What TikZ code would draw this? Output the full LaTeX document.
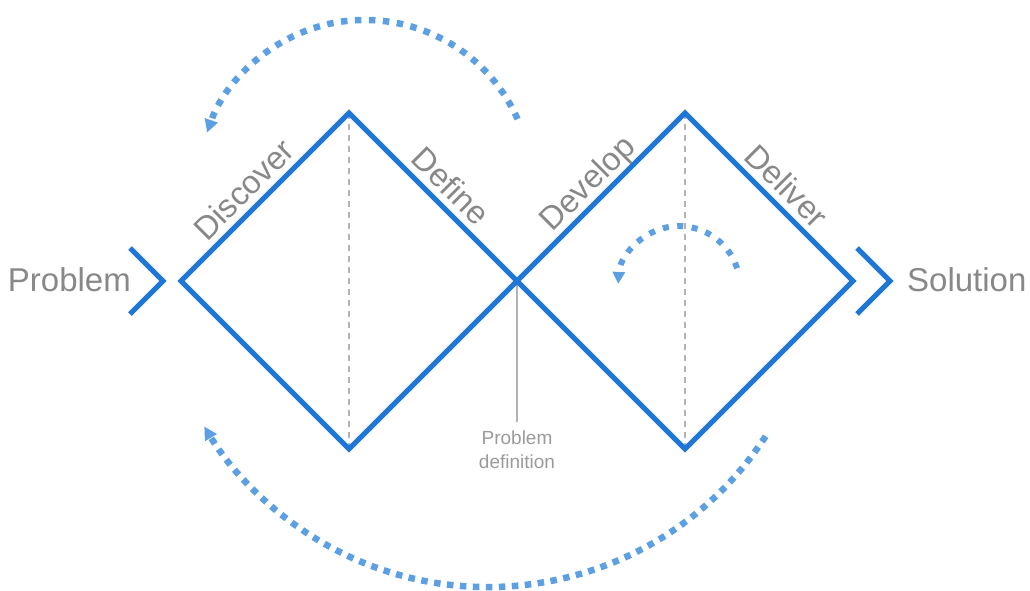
\documentclass[tikz,border=0pt]{standalone}
\usepackage{fontspec}
\setmainfont{Liberation Sans}
\usetikzlibrary{arrows.meta}
\definecolor{dblue}{HTML}{1E77D6}
\definecolor{lblue}{HTML}{5C9FE2}
\definecolor{tgrey}{HTML}{888888}
\definecolor{lgrey}{HTML}{B3B3B3}
\tikzset{
  diam/.style={draw=dblue, line width=5pt, line join=miter},
  guide/.style={draw=lgrey, line width=1.4pt, dash pattern=on 6pt off 5pt},
  loop/.style={draw=lblue, line width=6.5pt, dash pattern=on 6.5pt off 7.5pt,
    -{Triangle[length=13pt,width=13pt]}},
  phase/.style={text=tgrey, font=\fontsize{32.5}{38}\selectfont, sloped, above,
    inner sep=0pt, outer sep=0pt, text depth=0pt, yshift=9pt},
  endlabel/.style={text=tgrey, font=\fontsize{33}{39}\selectfont, inner sep=0pt},
  small/.style={text=tgrey!85, font=\fontsize{19}{23.5}\selectfont, align=center, inner sep=0pt}
}
\begin{document}
\begin{tikzpicture}[x=1pt,y=-1pt]
\useasboundingbox (0,0) rectangle (1030,590);
% key points
\coordinate (L1) at (181,281);
\coordinate (T1) at (349,113);
\coordinate (M)  at (517,281);
\coordinate (B1) at (349,449);
\coordinate (T2) at (685,113);
\coordinate (R2) at (853,281);
\coordinate (B2) at (685,449);
\coordinate (PD) at (517,422);
% guides
\draw[guide] (T1) -- (B1);
\draw[guide] (T2) -- (B2);
\draw[draw=lgrey, line width=1.4pt] (M) -- (PD);
% diamonds
\draw[diam] (L1) -- node[phase, pos=0.46] {Discover} (T1) -- node[phase, pos=0.52] {Define} (M) -- (B1) -- cycle;
\draw[diam] (M) -- node[phase] {Develop} (T2) -- node[phase, pos=0.52] {Deliver} (R2) -- (B2) -- cycle;
% chevrons
\coordinate (c1a) at (130,248); \coordinate (c1b) at (163,281); \coordinate (c1c) at (130,314);
\coordinate (c2a) at (857,248); \coordinate (c2b) at (890,281); \coordinate (c2c) at (857,314);
\draw[diam] (c1a) -- (c1b) -- (c1c);
\draw[diam] (c2a) -- (c2b) -- (c2c);
% labels
\node[endlabel, anchor=base east] (prob) at (131,291) {Problem};
\node[endlabel, anchor=base west] (sol) at (907,291) {Solution};
\node[small, anchor=north] (pdef) at (517,431) {Problem\\definition};
% loops
\coordinate (C1) at (365,187);
\coordinate (C2) at (488,256);
\coordinate (C3) at (681,286.5);
\draw[loop] (C1) ++(24:167pt) arc[start angle=24, end angle=161, radius=167pt];
\draw[loop, dash pattern=on 6.5pt off 6.5pt] (C2) ++(-33:331pt) arc[start angle=-33, end angle=-149, radius=331pt];
\draw[loop, line width=6pt, dash pattern=on 6pt off 8.5pt, -{Triangle[length=12pt,width=12pt]}] (C3) ++(18:59pt) arc[start angle=18, end angle=177, radius=61pt];
\end{tikzpicture}
\end{document}
